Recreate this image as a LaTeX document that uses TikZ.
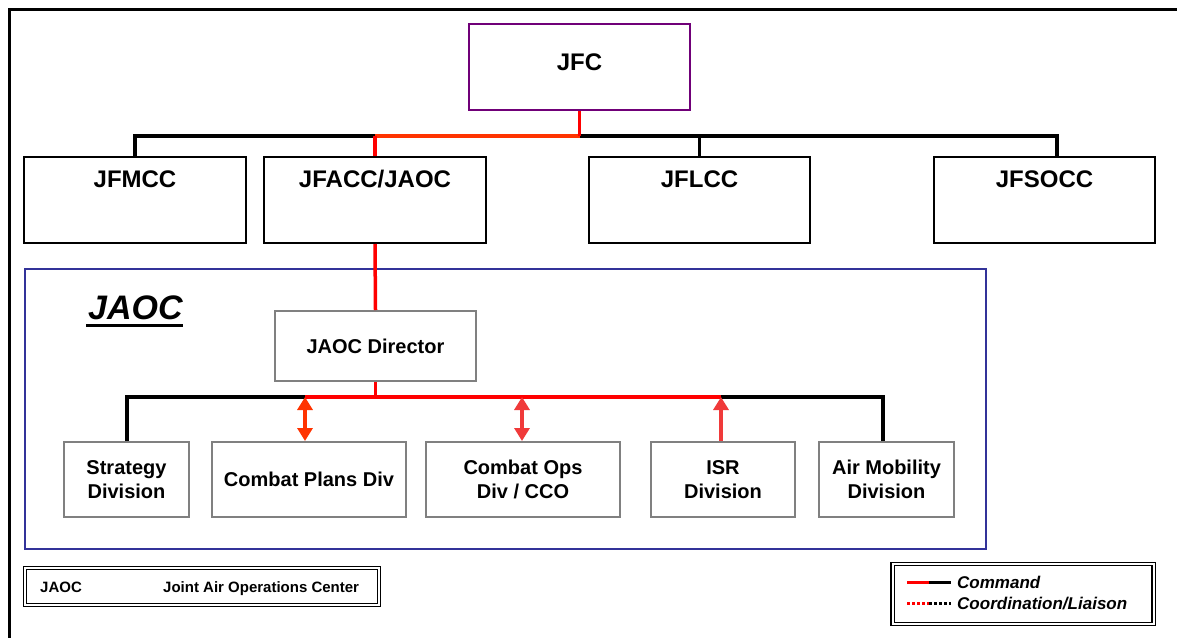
\documentclass[tikz,border=0pt]{standalone}
\usepackage{fontspec}
\setmainfont{Liberation Sans}
\usetikzlibrary{arrows.meta,calc}

\definecolor{jfcpurple}{RGB}{112,0,120}
\definecolor{jaocblue}{RGB}{51,51,153}
\definecolor{divgray}{RGB}{128,128,128}
\definecolor{cmdred}{RGB}{255,0,0}
\definecolor{cmdorange}{RGB}{255,51,0}
\definecolor{linkred}{RGB}{240,58,58}

\tikzset{
  x=1pt, y=-1pt,
  compbox/.style={draw=black, line width=2pt, fill=white, inner sep=0pt,
    minimum width=#1, text height=30pt, text depth=56pt,
    font=\fontsize{24}{28}\selectfont\bfseries},
  compbox/.default=221pt,
  divbox/.style={draw=divgray, line width=2pt, fill=white, inner sep=0pt,
    minimum width=#1, minimum height=75pt, align=center,
    font=\fontsize{20}{24}\selectfont\bfseries},
  cmdline/.style={line width=3.5pt, cmdred},
  stdline/.style={line width=3.5pt, black},
  dualarrow/.style={line width=4pt, {Triangle[width=15pt,length=13pt]}-{Triangle[width=15pt,length=13pt]}},
  uparrow/.style={line width=4pt, {Triangle[width=15pt,length=13pt]}-},
  legendbox/.style={draw=black, double, line width=1.2pt, double distance=2pt, inner sep=0pt},
}

\begin{document}
\begin{tikzpicture}
\useasboundingbox (0,0) rectangle (1177,637);
\clip (0,0) rectangle (1177,637);
\fill[white] (0,0) rectangle (1177,637);

% page frame (runs off the right and bottom edges)
\draw[line width=3pt] (1200,9) -- (9,9) -- (9,660);

% component commanders
\node[draw=jfcpurple, line width=2pt, fill=white, inner sep=0pt, minimum width=221pt,
      text height=46pt, text depth=40pt, font=\fontsize{24}{28}\selectfont\bfseries]
      (jfc) at (579.5,67) {JFC};
\node[compbox=222pt] (jfmcc)  at (135,200)   {JFMCC};
\node[compbox=222pt] (jfacc)  at (375,200)   {JFACC/JAOC};
\node[compbox]       (jflcc)  at (699.5,200) {JFLCC};
\node[compbox]       (jfsocc) at (1044.5,200) {JFSOCC};

\coordinate (topbus) at (579.5,136);
\coordinate (socctop) at ($(jfsocc.north)+(12.5,0)$);
\draw[stdline] (jfmcc.north) |- (jfacc.north |- topbus);
\draw[stdline] (topbus) -| (socctop);
\draw[stdline] (jflcc.north) -- (jflcc.north |- topbus);
\draw[line width=3.5pt, cmdorange] (topbus) -- (jfacc.north |- topbus);
\draw[cmdline] (jfc.south) -- (topbus);
\draw[cmdline] (jfacc.north |- topbus) -- (jfacc.north);

% JAOC frame
\node[draw=jaocblue, line width=2pt, minimum width=961pt, minimum height=280pt, inner sep=0pt]
      (jaocframe) at (505.5,409) {};
\node[anchor=base west, inner sep=0pt, font=\fontsize{34}{40}\selectfont\bfseries\itshape]
      (jaoctitle) at (88,319) {JAOC};
\draw[line width=3pt] ($(jaoctitle.base west)+(-2,6)$) -- ($(jaoctitle.base east)+(0,6)$);

\node[divbox=201pt, minimum height=70pt] (director) at (375.5,346) {JAOC Director};
\draw[cmdline] (jfacc.south) -- (director.north);

\node[divbox=125pt] (strategy) at (126.5,479.5) {Strategy\\Division};
\node[divbox=194pt] (plans)    at (309,479.5)   {Combat Plans Div};
\node[divbox=194pt] (ops)      at (523,479.5)   {Combat Ops\\Div / CCO};
\node[divbox=144pt] (isr)      at (723,479.5)   {ISR\\Division};
\node[divbox=135pt] (airmob)   at (886.5,479.5) {Air Mobility\\Division};

% JAOC bus
\coordinate (dirbus)  at (375.5,397);
\coordinate (planbus) at (305,397);
\coordinate (opsbus)  at (522,397);
\coordinate (isrbus)  at (721,397);
\coordinate (stratbus) at (127,397);
\coordinate (mobbus)  at (883,397);
\draw[stdline] (strategy.north -| stratbus) |- (planbus);
\draw[stdline] (airmob.north -| mobbus) |- (isrbus);
\draw[cmdline] (planbus) -- (isrbus);
\draw[cmdline] (director.south) -- (dirbus);

\draw[dualarrow, cmdorange] (planbus) -- (plans.north -| planbus);
\draw[dualarrow, linkred]   (opsbus)  -- (ops.north -| opsbus);
\draw[uparrow, linkred]     (isrbus)  -- (isr.north -| isrbus);

% abbreviation key
\node[legendbox, minimum width=354pt, minimum height=37pt] (abbrev) at (202,586.5) {};
\node[anchor=base west, inner sep=0pt, font=\fontsize{15}{18}\selectfont\bfseries]
      (abbrA) at (40,592) {JAOC};
\node[anchor=base west, inner sep=0pt, font=\fontsize{15}{18}\selectfont\bfseries]
      (abbrB) at (163,592) {Joint Air Operations Center};

% line key
\node[legendbox, minimum width=261pt, minimum height=60pt] (linekey) at (1023,594) {};
\coordinate (cmdA) at (907,582);
\coordinate (cmdB) at (929,582);
\coordinate (cmdC) at (951,582);
\draw[line width=3pt, cmdred] (cmdA) -- (cmdB);
\draw[line width=3pt, black] (cmdB) -- (cmdC);
\coordinate (crdA) at (907,603);
\coordinate (crdB) at (929,603);
\coordinate (crdC) at (951,603);
\draw[line width=3pt, cmdred, dash pattern=on 3pt off 2pt] (crdA) -- (crdB);
\draw[line width=3pt, black, dash pattern=on 3pt off 2pt] (crdB) -- (crdC);
\node[anchor=base west, inner sep=0pt, font=\fontsize{17}{20}\selectfont\bfseries\itshape]
      (cmdtext) at (957,588) {Command};
\node[anchor=base west, inner sep=0pt, font=\fontsize{17}{20}\selectfont\bfseries\itshape]
      (crdtext) at (957,609) {Coordination/Liaison};
\end{tikzpicture}
\end{document}
